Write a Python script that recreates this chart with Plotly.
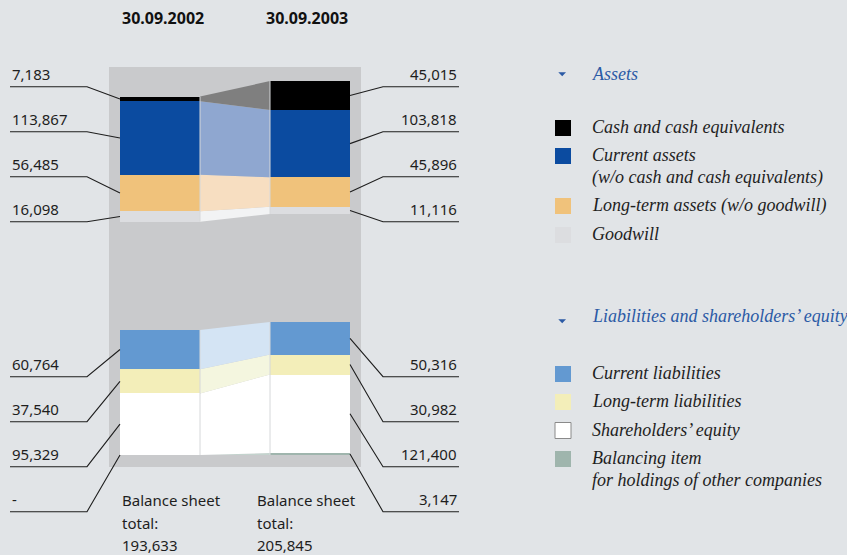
import plotly.graph_objects as go

# ---------------- data ----------------
dates = ["30.09.2002", "30.09.2003"]
balance_totals = [193633, 205845]

cash = [7183, 45015]
current_assets = [113867, 103818]
longterm_assets = [56485, 45896]
goodwill = [16098, 11116]

current_liab = [60764, 50316]
longterm_liab = [37540, 30982]
equity = [95329, 121400]
balancing = [0, 3147]

asset_names = ["Cash and cash equivalents",
               "Current assets|(w/o cash and cash equivalents)",
               "Long-term assets (w/o goodwill)",
               "Goodwill"]
liab_names = ["Current liabilities", "Long-term liabilities",
              "Shareholders’ equity",
              "Balancing item|for holdings of other companies"]

# ---------------- layout constants ----------------
W, H = 847, 555
SCALE = 1548.0          # value units per pixel
BASE_PX = 455.0         # pixel row of value 0 (liabilities baseline)


def py(p):
    return (BASE_PX - p) * SCALE


BAR_X = [160, 310]
BAR_W = 80
ASSET_BASE = [py(221.7), py(214.0)]
LIAB_BASE = [0.0, 0.0]

BG = "#e1e4e7"
PANEL = "#c9cacc"
TXT = "#1e1e1e"
BLUE_T = "#2b5aa5"

asset_series = [  # bottom -> top
    (goodwill, "#dcdde0", "#f2f3f4"),
    (longterm_assets, "#f0c27b", "#f7dec1"),
    (current_assets, "#0b4ba0", "#8fa7d0"),
    (cash, "#000000", "#7f7f7f"),
]
liab_series = [  # bottom -> top
    (balancing, "#9fb5ad", "#c3d3cd"),
    (equity, "#ffffff", "#ffffff"),
    (longterm_liab, "#f3eeb9", "#f4f6df"),
    (current_liab, "#6399d1", "#d4e4f4"),
]


def stack(series, bases):
    out = []
    cur = list(bases)
    for vals, c1, c2 in series:
        lo = cur[:]
        hi = [a + v for a, v in zip(cur, vals)]
        out.append((vals, lo, hi, c1, c2))
        cur = hi
    return out


fig = go.Figure()

# gray panel
fig.add_shape(type="rect", xref="x", yref="y", x0=109, x1=361,
              y0=py(467), y1=py(67), fillcolor=PANEL, line_width=0, layer="below")

x_l, x_r = BAR_X[0] + BAR_W / 2, BAR_X[1] - BAR_W / 2

for series, bases in ((asset_series, ASSET_BASE), (liab_series, LIAB_BASE)):
    segs = stack(series, bases)
    # connectors
    for vals, lo, hi, c1, c2 in segs:
        fig.add_trace(go.Scatter(
            x=[x_l, x_r, x_r, x_l, x_l], y=[lo[0], lo[1], hi[1], hi[0], lo[0]],
            mode="lines", fill="toself", fillcolor=c2,
            line=dict(width=0, color=c2), hoverinfo="skip", showlegend=False))
    # thin light edges of connector band
    bot0, top0 = segs[0][1][0], segs[-1][2][0]
    bot1, top1 = segs[0][1][1], segs[-1][2][1]
    fig.add_trace(go.Scatter(x=[x_l, x_l], y=[bot0, top0], mode="lines",
                             line=dict(color="#d6d8da", width=1),
                             hoverinfo="skip", showlegend=False))
    fig.add_trace(go.Scatter(x=[x_r, x_r], y=[bot1, top1], mode="lines",
                             line=dict(color="#d6d8da", width=1),
                             hoverinfo="skip", showlegend=False))
    # bars
    for vals, lo, hi, c1, c2 in segs:
        fig.add_trace(go.Bar(x=BAR_X, y=vals, base=lo, width=BAR_W,
                             marker=dict(color=c1, line=dict(width=0)),
                             hoverinfo="skip", showlegend=False))

annotations = []


def num_text(v):
    return "-" if v == 0 else f"{v:,}"


def leaders(series, bases, text_row0, line_row0):
    segs = stack(series, bases)[::-1]  # top -> bottom
    for i, (vals, lo, hi, c1, c2) in enumerate(segs):
        yl = py(line_row0 + 45 * i)
        yt = py(text_row0 + 45 * i)
        m0 = (lo[0] + hi[0]) / 2
        m1 = (lo[1] + hi[1]) / 2
        fig.add_trace(go.Scatter(x=[10, 87, 120], y=[yl, yl, m0], mode="lines",
                                 line=dict(color=TXT, width=1.1),
                                 hoverinfo="skip", showlegend=False))
        fig.add_trace(go.Scatter(x=[459, 383, 350], y=[yl, yl, m1], mode="lines",
                                 line=dict(color=TXT, width=1.1),
                                 hoverinfo="skip", showlegend=False))
        annotations.append(dict(x=10, y=yt, xref="x", yref="y", text=num_text(vals[0]),
                                xanchor="left", yanchor="middle", showarrow=False,
                                font=dict(family="Noto Sans", size=15, color=TXT)))
        annotations.append(dict(x=459, y=yt, xref="x", yref="y", text=num_text(vals[1]),
                                xanchor="right", yanchor="middle", showarrow=False,
                                font=dict(family="Noto Sans", size=15, color=TXT)))


leaders(asset_series, ASSET_BASE, 74.2, 86.7)
leaders(liab_series, LIAB_BASE, 363.5, 376.7)

# headers
for d, xc in zip(dates, [163, 307]):
    annotations.append(dict(x=xc, y=py(18), xref="x", yref="y", text=f"<b>{d}</b>",
                            xanchor="center", yanchor="middle", showarrow=False,
                            font=dict(family="Noto Sans", size=16, color="#111111")))

# balance sheet totals
for tot, xl in zip(balance_totals, [120, 255]):
    for j, line in enumerate(["Balance sheet", "total:", f"{tot:,}"]):
        annotations.append(dict(x=xl, y=py(500 + 22.5 * j), xref="x", yref="y", text=line,
                                xanchor="left", yanchor="middle", showarrow=False,
                                font=dict(family="Noto Sans", size=15, color=TXT)))


# ---------------- legend (custom) ----------------
def P(px, pyy):
    return px / W, 1 - pyy / H


def legend_text(px, pyy, text, color=TXT):
    x, y = P(px, pyy)
    annotations.append(dict(x=x, y=y, xref="paper", yref="paper", text=f"<i>{text}</i>",
                            xanchor="left", yanchor="middle", showarrow=False,
                            font=dict(family="Liberation Serif", size=18, color=color)))


def square(top, color, border=None):
    x0, y0 = P(555, top + 16)
    x1, y1 = P(571, top)
    fig.add_shape(type="rect", xref="paper", yref="paper", x0=x0, x1=x1, y0=y0, y1=y1,
                  fillcolor=color,
                  line=dict(width=1 if border else 0, color=border or color))


def triangle(ytop):
    pts = [P(558.3, ytop), P(566.0, ytop), P(562.2, ytop + 4)]
    path = "M {} {} L {} {} L {} {} Z".format(pts[0][0], pts[0][1], pts[1][0], pts[1][1],
                                              pts[2][0], pts[2][1])
    fig.add_shape(type="path", xref="paper", yref="paper", path=path,
                  fillcolor=BLUE_T, line=dict(width=0))


triangle(72.3)
legend_text(590, 74.5, "Assets", BLUE_T)
triangle(319.3)
legend_text(590, 316.5, "Liabilities and shareholders’ equity", BLUE_T)

asset_legend = [(asset_names[0], "#000000", 120, None),
                (asset_names[1], "#0b4ba0", 148, None),
                (asset_names[2], "#f0c27b", 198, None),
                (asset_names[3], "#dcdde0", 227, None)]
liab_legend = [(liab_names[0], "#6399d1", 366, None),
               (liab_names[1], "#f3eeb9", 394, None),
               (liab_names[2], "#ffffff", 422.5, "#8a8a8a"),
               (liab_names[3], "#9fb5ad", 451, None)]

for name, col, top, border in asset_legend + liab_legend:
    square(top, col, border)
    for j, part in enumerate(name.split("|")):
        legend_text(590, top + 7 + 22.3 * j, part)

fig.update_layout(
    width=W, height=H,
    margin=dict(l=0, r=0, t=0, b=0),
    paper_bgcolor=BG, plot_bgcolor=BG,
    barmode="overlay", bargap=0,
    hovermode=False,
    xaxis=dict(range=[0, W], visible=False, fixedrange=True),
    yaxis=dict(range=[py(H), py(0)], visible=False, fixedrange=True),
    annotations=annotations,
    showlegend=False,
)

fig.write_html("out.html", config={"displayModeBar": False},
               post_script="document.body.style.margin='0';document.body.style.overflow='hidden';")
